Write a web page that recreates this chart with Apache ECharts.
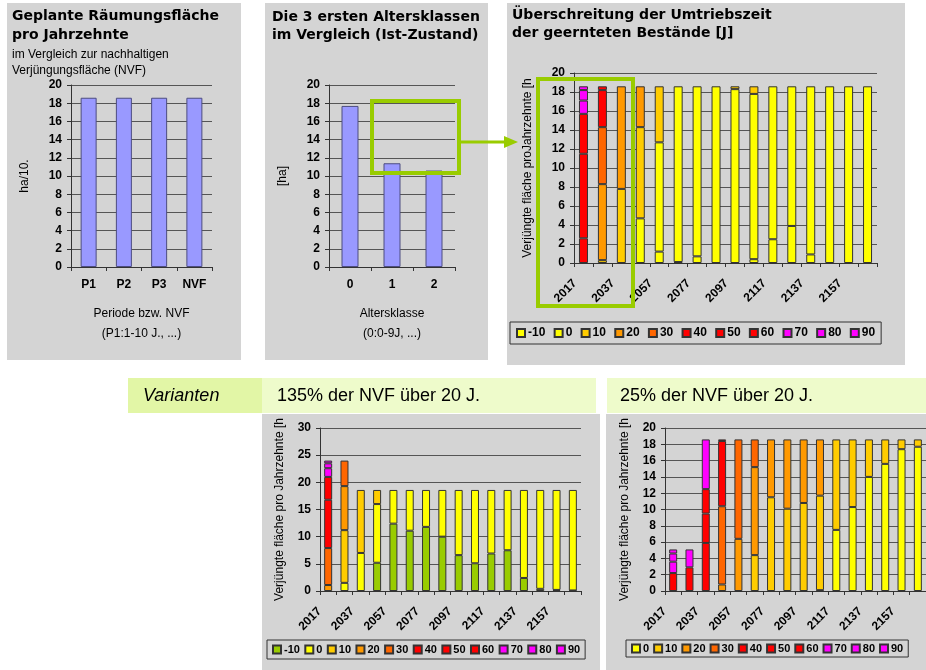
<!DOCTYPE html>
<html>
<head>
<meta charset="utf-8">
<script src="https://cdn.jsdelivr.net/npm/echarts@6/dist/echarts.min.js"></script>
<style>
  html, body { margin: 0; padding: 0; background: #fff; }
  #chart { width: 926px; height: 670px; }
</style>
</head>
<body>
<div id="chart"></div>
<script>
// --- data ---
const periodCats = ['P1', 'P2', 'P3', 'NVF'];
const periodVals = [18.6, 18.6, 18.6, 18.6];

const ageCats = ['0', '1', '2'];
const ageVals = [17.7, 11.4, 10.6];

const years = ['2017', '2027', '2037', '2047', '2057', '2067', '2077', '2087',
  '2097', '2107', '2117', '2127', '2137', '2147', '2157', '2167'];

// overrun classes [J]
const classesAll = ['-10', '0', '10', '20', '30', '40', '50', '60', '70', '80', '90'];
const classesNoNeg = ['0', '10', '20', '30', '40', '50', '60', '70', '80', '90'];

// Ist: one row per class (-10 .. 90), one value per decade
const istRows = [
  [0, 0, 0, 0, 1.2, 0.1, 0.7, 0, 0, 0.4, 2.5, 3.9, 0.9, 0, 0, 0],
  [0, 0, 0, 4.7, 11.5, 18.5, 17.9, 18.6, 18.3, 17.4, 16.1, 14.7, 17.7, 18.6, 18.6, 18.6],
  [0, 0.3, 7.8, 9.6, 5.9, 0, 0, 0, 0.3, 0.8, 0, 0, 0, 0, 0, 0],
  [0, 8.0, 10.8, 4.3, 0, 0, 0, 0, 0, 0, 0, 0, 0, 0, 0, 0],
  [0, 6.0, 0, 0, 0, 0, 0, 0, 0, 0, 0, 0, 0, 0, 0, 0],
  [2.6, 3.9, 0, 0, 0, 0, 0, 0, 0, 0, 0, 0, 0, 0, 0, 0],
  [8.9, 0.4, 0, 0, 0, 0, 0, 0, 0, 0, 0, 0, 0, 0, 0, 0],
  [4.2, 0, 0, 0, 0, 0, 0, 0, 0, 0, 0, 0, 0, 0, 0, 0],
  [1.4, 0, 0, 0, 0, 0, 0, 0, 0, 0, 0, 0, 0, 0, 0, 0],
  [1.1, 0, 0, 0, 0, 0, 0, 0, 0, 0, 0, 0, 0, 0, 0, 0],
  [0.4, 0, 0, 0, 0, 0, 0, 0, 0, 0, 0, 0, 0, 0, 0, 0]
];

// variant 135% NVF, rows -10 .. 90
const v135Rows = [
  [0, 0, 0, 5.2, 12.4, 11.1, 11.8, 10.0, 6.6, 5.1, 6.9, 7.5, 2.4, 0.4, 0.2, 0.1],
  [0, 1.5, 7.0, 10.8, 6.2, 7.5, 6.8, 8.6, 12.0, 13.5, 11.7, 11.1, 16.2, 18.2, 18.4, 18.5],
  [0, 9.7, 11.6, 2.6, 0, 0, 0, 0, 0, 0, 0, 0, 0, 0, 0, 0],
  [1.1, 8.1, 0, 0, 0, 0, 0, 0, 0, 0, 0, 0, 0, 0, 0, 0],
  [6.8, 4.7, 0, 0, 0, 0, 0, 0, 0, 0, 0, 0, 0, 0, 0, 0],
  [8.9, 0, 0, 0, 0, 0, 0, 0, 0, 0, 0, 0, 0, 0, 0, 0],
  [4.2, 0, 0, 0, 0, 0, 0, 0, 0, 0, 0, 0, 0, 0, 0, 0],
  [0, 0, 0, 0, 0, 0, 0, 0, 0, 0, 0, 0, 0, 0, 0, 0],
  [1.6, 0, 0, 0, 0, 0, 0, 0, 0, 0, 0, 0, 0, 0, 0, 0],
  [0.9, 0, 0, 0, 0, 0, 0, 0, 0, 0, 0, 0, 0, 0, 0, 0],
  [0.5, 0, 0, 0, 0, 0, 0, 0, 0, 0, 0, 0, 0, 0, 0, 0]
];

// variant 25% NVF, rows 0 .. 90
const v25Rows = [
  [0, 0, 0, 0, 0, 0, 0, 0, 0, 0.1, 7.5, 10.3, 14.0, 15.6, 17.4, 17.7],
  [0, 0, 0, 0, 0, 4.4, 11.5, 10.1, 10.8, 11.6, 11.1, 8.3, 4.6, 3.0, 1.2, 0.9],
  [0, 0, 0, 0.8, 6.4, 10.8, 7.1, 8.5, 7.8, 6.9, 0, 0, 0, 0, 0, 0],
  [0, 0, 0, 9.6, 12.2, 3.4, 0, 0, 0, 0, 0, 0, 0, 0, 0, 0],
  [0, 0, 5.9, 8.0, 0, 0, 0, 0, 0, 0, 0, 0, 0, 0, 0, 0],
  [0, 0, 3.6, 0.2, 0, 0, 0, 0, 0, 0, 0, 0, 0, 0, 0, 0],
  [2.2, 2.9, 3.0, 0, 0, 0, 0, 0, 0, 0, 0, 0, 0, 0, 0, 0],
  [1.4, 2.2, 6.1, 0, 0, 0, 0, 0, 0, 0, 0, 0, 0, 0, 0, 0],
  [1.0, 0, 0, 0, 0, 0, 0, 0, 0, 0, 0, 0, 0, 0, 0, 0],
  [0.5, 0, 0, 0, 0, 0, 0, 0, 0, 0, 0, 0, 0, 0, 0, 0]
];

// --- styles ---
const FONT = '"Liberation Sans", Arial, sans-serif';
const TITLE_FONT = '"DejaVu Sans", Verdana, sans-serif';
const classColors = ['#ffff00', '#ffff00', '#ffcc00', '#ff9900', '#ff6600',
  '#ff0000', '#ff0000', '#ff0000', '#ff00ff', '#ff00ff', '#ff00ff'];
const classColors135 = ['#99cc00'].concat(classColors.slice(1));
const classColors25 = classColors.slice(1);
const GREEN = '#99cc00';

function yAxis(grid, max, interval, name, nameGap) {
  return {
    type: 'value', gridIndex: grid, min: 0, max: max, interval: interval,
    name: name, nameLocation: 'middle', nameRotate: 90, nameGap: nameGap,
    nameTextStyle: { fontFamily: FONT, fontSize: 12, color: '#000' },
    axisLine: { show: true, lineStyle: { color: '#333' } },
    axisTick: { show: true, length: 4, lineStyle: { color: '#333' } },
    axisLabel: { fontFamily: FONT, fontSize: 12, fontWeight: 'bold', color: '#000', margin: 9 },
    splitLine: { lineStyle: { color: '#555' } }
  };
}

function xAxis(grid, cats, opts) {
  return Object.assign({
    type: 'category', gridIndex: grid, data: cats,
    axisLine: { lineStyle: { color: '#333' } },
    axisTick: { show: true, length: 4, interval: 0, lineStyle: { color: '#333' } },
    axisLabel: { fontFamily: FONT, fontSize: 12, fontWeight: 'bold', color: '#000', margin: 12 },
    nameTextStyle: { fontFamily: FONT, fontSize: 12, color: '#000', lineHeight: 20 }
  }, opts || {});
}

// rotated decade labels, pushed down-left like the Excel ones
const yearAxisLabel = {
  fontFamily: FONT, fontSize: 12, fontWeight: 'bold', color: '#000',
  rotate: 45, interval: 1, margin: 10, padding: [0, 12, 0, 0]
};

function stackSeries(prefix, classes, rows, colors, axisIdx, barWidth) {
  return classes.map((c, i) => ({
    name: prefix + '|' + c,
    type: 'bar',
    stack: prefix,
    xAxisIndex: axisIdx,
    yAxisIndex: axisIdx,
    barWidth: barWidth,
    itemStyle: { color: colors[i], borderColor: '#333', borderWidth: 1 },
    data: rows[i].map(v => (v === 0 ? '-' : v))
  }));
}

function legend(prefix, classes, left, top, gap, size, pad) {
  return {
    left: left, top: top,
    data: classes.map(c => prefix + '|' + c),
    formatter: n => n.split('|')[1],
    icon: 'rect', itemWidth: 8, itemHeight: 8, itemGap: gap,
    padding: pad, borderColor: '#333', borderWidth: 1,
    selectedMode: false,
    textStyle: { fontFamily: FONT, fontSize: size, fontWeight: 'bold', color: '#000', padding: [0, 0, 0, -2] }
  };
}

function txt(x, y, text, font, extra) {
  return Object.assign({
    type: 'text', x: x, y: y, z: 5,
    style: { text: text, font: font, fill: '#000', verticalAlign: 'middle' }
  }, extra || {});
}

const graphics = [
  // panel backgrounds
  { type: 'rect', z: -10, shape: { x: 7, y: 3, width: 234, height: 357 }, style: { fill: '#d4d4d4' } },
  { type: 'rect', z: -10, shape: { x: 265, y: 3, width: 223, height: 357 }, style: { fill: '#d4d4d4' } },
  { type: 'rect', z: -10, shape: { x: 507, y: 3, width: 398, height: 362 }, style: { fill: '#d4d4d4' } },
  { type: 'rect', z: -10, shape: { x: 262, y: 414, width: 338, height: 256 }, style: { fill: '#d4d4d4' } },
  { type: 'rect', z: -10, shape: { x: 606, y: 414, width: 320, height: 256 }, style: { fill: '#d4d4d4' } },
  // variants band
  { type: 'rect', z: -10, shape: { x: 128, y: 378, width: 134, height: 35 }, style: { fill: '#e2f6a6' } },
  { type: 'rect', z: -10, shape: { x: 262, y: 378, width: 334, height: 35 }, style: { fill: '#eefbcb' } },
  { type: 'rect', z: -10, shape: { x: 607, y: 378, width: 319, height: 35 }, style: { fill: '#eefbcb' } },
  // titles
  txt(12, 16, 'Geplante Räumungsfläche', 'bold 14px ' + TITLE_FONT),
  txt(12, 35, 'pro Jahrzehnte', 'bold 14px ' + TITLE_FONT),
  txt(12, 55, 'im Vergleich zur nachhaltigen', '12px ' + FONT),
  txt(12, 71, 'Verjüngungsfläche (NVF)', '12px ' + FONT),
  txt(272, 17, 'Die 3 ersten Altersklassen', 'bold 14px ' + TITLE_FONT),
  txt(272, 35, 'im Vergleich (Ist-Zustand)', 'bold 14px ' + TITLE_FONT),
  txt(512, 15, 'Überschreitung der Umtriebszeit', 'bold 14px ' + TITLE_FONT),
  txt(512, 33, 'der geernteten Bestände [J]', 'bold 14px ' + TITLE_FONT),
  txt(143, 396, 'Varianten', 'italic 18px ' + FONT),
  txt(277, 396, '135% der NVF über 20 J.', '18px ' + FONT),
  txt(620, 396, '25% der NVF über 20 J.', '18px ' + FONT),
  // green highlight boxes and arrow
  { type: 'rect', z: 50, shape: { x: 372, y: 101, width: 87, height: 72 }, style: { fill: null, stroke: GREEN, lineWidth: 4 } },
  { type: 'rect', z: 50, shape: { x: 538, y: 79, width: 95, height: 227 }, style: { fill: null, stroke: GREEN, lineWidth: 4 } },
  { type: 'line', z: 50, shape: { x1: 459, y1: 142, x2: 506, y2: 142 }, style: { stroke: GREEN, lineWidth: 3 } },
  { type: 'polygon', z: 50, shape: { points: [[504, 136], [518, 142], [504, 148]] }, style: { fill: GREEN } }
];

const option = {
  animation: false,
  backgroundColor: '#fff',
  grid: [
    { left: 71, top: 85, width: 141, height: 182 },
    { left: 329, top: 85, width: 126, height: 182 },
    { left: 574, top: 73, width: 303, height: 190 },
    { left: 320, top: 428, width: 261, height: 163 },
    { left: 665, top: 428, width: 264, height: 163 }
  ],
  xAxis: [
    xAxis(0, periodCats, { name: 'Periode bzw. NVF\n(P1:1-10 J., ...)', nameLocation: 'middle', nameGap: 37 }),
    xAxis(1, ageCats, { name: 'Altersklasse\n(0:0-9J, ...)', nameLocation: 'middle', nameGap: 37 }),
    xAxis(2, years, { axisLabel: yearAxisLabel }),
    xAxis(3, years, { axisLabel: yearAxisLabel }),
    xAxis(4, years, { axisLabel: yearAxisLabel })
  ],
  yAxis: [
    yAxis(0, 20, 2, 'ha/10.', 40),
    yAxis(1, 20, 2, '[ha]', 40),
    yAxis(2, 20, 2, 'Verjüngte fläche proJahrzehnte [h', 40),
    yAxis(3, 30, 5, 'Verjüngte fläche pro Jahrzehnte [h', 34),
    yAxis(4, 20, 2, 'Verjüngte fläche pro Jahrzehnte [h', 34)
  ],
  legend: [
    legend('ist', classesAll, 510, 322, 8.3, 12, [5, 6]),
    legend('v135', classesAll, 267, 640, 4.4, 11, [4, 5]),
    legend('v25', classesNoNeg, 626, 640, 4, 11, [3, 5])
  ],
  series: [
    {
      type: 'bar', xAxisIndex: 0, yAxisIndex: 0, barWidth: 16, data: periodVals,
      itemStyle: { color: '#9999ff', borderColor: '#4d4d80', borderWidth: 1 }
    },
    {
      type: 'bar', xAxisIndex: 1, yAxisIndex: 1, barWidth: 17, data: ageVals,
      itemStyle: { color: '#9999ff', borderColor: '#4d4d80', borderWidth: 1 }
    }
  ]
    .concat(stackSeries('ist', classesAll, istRows, classColors, 2, 9))
    .concat(stackSeries('v135', classesAll, v135Rows, classColors135, 3, 8))
    .concat(stackSeries('v25', classesNoNeg, v25Rows, classColors25, 4, 8)),
  graphic: graphics
};

const chart = echarts.init(document.getElementById('chart'));
chart.setOption(option);
window.addEventListener('resize', () => chart.resize());
</script>
</body>
</html>
